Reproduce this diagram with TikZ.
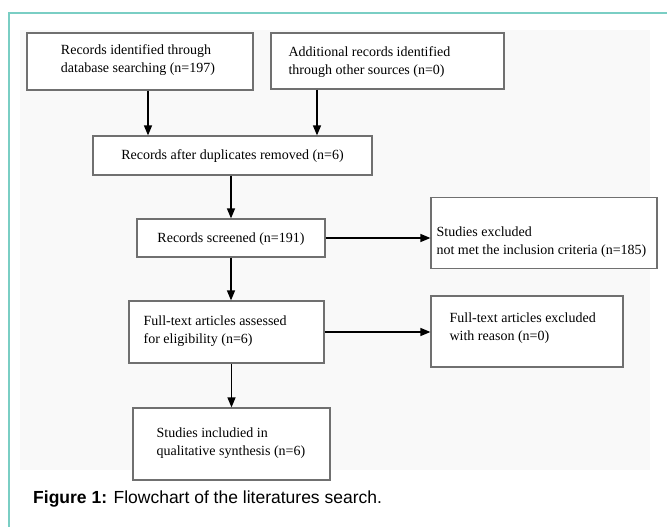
\documentclass[tikz,border=0pt]{standalone}
\usepackage{fontspec}
\setmainfont{Liberation Serif}
\newfontfamily\capfont{Liberation Sans}
\usetikzlibrary{arrows.meta,calc}
\definecolor{frameteal}{RGB}{122,206,196}
\definecolor{boxgray}{RGB}{112,112,112}
\definecolor{bggray}{RGB}{249,249,249}
\begin{document}
\begin{tikzpicture}[x=1pt,y=-1pt,
  box/.style={draw=boxgray, line width=1.2pt, inner sep=0pt, fill=white},
  txt/.style={font=\fontsize{14}{18}\selectfont, align=left, inner sep=0pt},
  arr/.style={-{Triangle[length=10pt,width=8pt]}, line width=1.4pt, black}]
\useasboundingbox (0,0) rectangle (667,527);
\fill[white] (0,0) rectangle (667,527);
\fill[bggray] (20,30) rectangle (650,470);
\draw[frameteal, line width=2pt] (9,527) -- (9,13) -- (667,13);

% boxes
\node[box, minimum width=226pt, minimum height=57pt] (b1) at (140,61.5) {};
\node[box, minimum width=233pt, minimum height=56pt] (b2) at (387.5,61) {};
\node[box, minimum width=279pt, minimum height=39pt] (b3) at (232.5,155.5) {};
\node[box, minimum width=188pt, minimum height=38pt] (b4) at (231,238) {};
\node[box, minimum width=226pt, minimum height=71pt] (b5) at (544,233) {};
\node[box, minimum width=195pt, minimum height=62pt] (b6) at (226.5,332) {};
\node[box, minimum width=192pt, minimum height=71pt] (b7) at (527,331.5) {};
\node[box, minimum width=197pt, minimum height=72pt] (b8) at (231.5,444) {};

% texts
\node[txt] (t1) at ($(b1.center)+(-2,-1)$) {Records identified through\\database searching (n=197)};
\node[txt, anchor=west] (t2) at ($(b2.west)+(18,1)$) {Additional records identified\\through other sources (n=0)};
\node[txt] (t3) at ($(b3.center)+(0,1)$) {Records after duplicates removed (n=6)};
\node[txt] (t4) at ($(b4.center)+(0,1)$) {Records screened (n=191)};
\node[txt, anchor=west] (t5) at ($(b5.west)+(6,9.5)$) {Studies excluded\\not met the inclusion criteria (n=185)};
\node[txt, anchor=west] (t6) at ($(b6.west)+(15,-1)$) {Full-text articles assessed\\for eligibility (n=6)};
\node[txt, anchor=west] (t7) at ($(b7.west)+(19,-3)$) {Full-text articles excluded\\with reason (n=0)};
\node[txt, anchor=west] (t8) at ($(b8.west)+(24,-1)$) {Studies includied in\\qualitative synthesis (n=6)};

% connectors
\draw[arr] ([xshift=8pt]b1.south) -- ([xshift=8pt]b1.south |- b3.north);
\draw[arr] ([xshift=-70.5pt]b2.south) -- ([xshift=-70.5pt]b2.south |- b3.north);
\draw[arr] (b4.north |- b3.south) -- (b4.north);
\draw[arr] (b4.south) -- (b4.south |- b6.north);
\draw[arr] (b8.north |- b6.south) -- (b8.north);
\draw[arr] (b4.east) -- (b5.west |- b4.east);
\draw[arr] (b6.east) -- (b7.west |- b6.east);

% caption
\node[anchor=base west, inner sep=0pt, font=\capfont\fontsize{17.5}{20}\selectfont] (cap) at (33,503) {\textbf{Figure 1:} Flowchart of the literatures search.};
\end{tikzpicture}
\end{document}
